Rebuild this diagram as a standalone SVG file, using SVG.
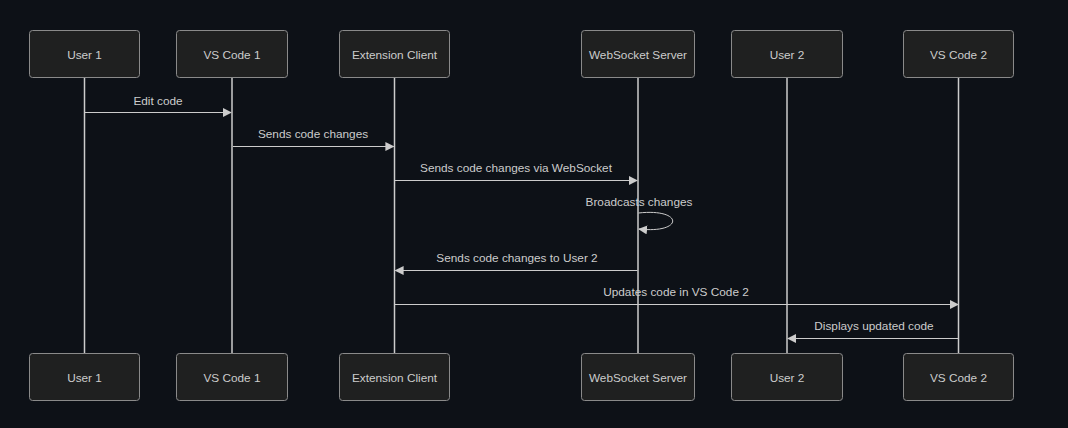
<svg xmlns="http://www.w3.org/2000/svg" width="1068" height="428" viewBox="0 0 1068 428">
<style>
.bg{fill:#0d1117}
.actor rect{fill:#1f2020;stroke:#8a8a8a;stroke-width:1}
.actor text,.lbl{font-family:"Liberation Sans",Arial,sans-serif;font-size:11.8px;fill:#cccccc}
.actor text{text-anchor:middle;dominant-baseline:central}
.lbl{text-anchor:middle}
.life{stroke:#cccccc;stroke-width:1.5}
.msg{stroke:#cccccc;stroke-width:1;fill:none}
</style>
<defs>
<marker id="ah" viewBox="0 0 10 10" refX="9" refY="5" markerWidth="9" markerHeight="9" markerUnits="userSpaceOnUse" orient="auto">
<path d="M0,0 L10,5 L0,10 z" fill="#cccccc"/>
</marker>
</defs>
<rect class="bg" x="0" y="0" width="1068" height="428"/>
<g id="lifelines">
<line class="life" x1="84.5" y1="78" x2="84.5" y2="353"/>
<line class="life" x1="232" y1="78" x2="232" y2="353"/>
<line class="life" x1="394.5" y1="78" x2="394.5" y2="353"/>
<line class="life" x1="638" y1="78" x2="638" y2="353"/>
<line class="life" x1="787" y1="78" x2="787" y2="353"/>
<line class="life" x1="958.5" y1="78" x2="958.5" y2="353"/>
</g>
<g id="user1" class="actor">
<rect x="29.5" y="30.5" width="110" height="47" rx="3"/><text x="84.5" y="54.5">User 1</text>
<rect x="29.5" y="353.5" width="110" height="47" rx="3"/><text x="84.5" y="377.5">User 1</text>
</g>
<g id="vscode1" class="actor">
<rect x="176.5" y="30.5" width="111" height="47" rx="3"/><text x="232" y="54.5">VS Code 1</text>
<rect x="176.5" y="353.5" width="111" height="47" rx="3"/><text x="232" y="377.5">VS Code 1</text>
</g>
<g id="extclient" class="actor">
<rect x="339.5" y="30.5" width="110" height="47" rx="3"/><text x="394.5" y="54.5">Extension Client</text>
<rect x="339.5" y="353.5" width="110" height="47" rx="3"/><text x="394.5" y="377.5">Extension Client</text>
</g>
<g id="wsserver" class="actor">
<rect x="581.5" y="30.5" width="113" height="47" rx="3"/><text x="638" y="54.5">WebSocket Server</text>
<rect x="581.5" y="353.5" width="113" height="47" rx="3"/><text x="638" y="377.5">WebSocket Server</text>
</g>
<g id="user2" class="actor">
<rect x="731.5" y="30.5" width="111" height="47" rx="3"/><text x="787" y="54.5">User 2</text>
<rect x="731.5" y="353.5" width="111" height="47" rx="3"/><text x="787" y="377.5">User 2</text>
</g>
<g id="vscode2" class="actor">
<rect x="903.5" y="30.5" width="110" height="47" rx="3"/><text x="958.5" y="54.5">VS Code 2</text>
<rect x="903.5" y="353.5" width="110" height="47" rx="3"/><text x="958.5" y="377.5">VS Code 2</text>
</g>
<g id="connectors">
<line class="msg" x1="85" y1="112.5" x2="231" y2="112.5" marker-end="url(#ah)"/>
<text class="lbl" x="158" y="105">Edit code</text>
<line class="msg" x1="233" y1="146.5" x2="393.5" y2="146.5" marker-end="url(#ah)"/>
<text class="lbl" x="313" y="138">Sends code changes</text>
<line class="msg" x1="395" y1="180.5" x2="637" y2="180.5" marker-end="url(#ah)"/>
<text class="lbl" x="516" y="172">Sends code changes via WebSocket</text>
<path class="msg" d="M638.5,213 C684,208 684,234 639,229" marker-end="url(#ah)"/>
<text class="lbl" x="639" y="206">Broadcasts changes</text>
<line class="msg" x1="637.5" y1="270.5" x2="395.5" y2="270.5" marker-end="url(#ah)"/>
<text class="lbl" x="517" y="262">Sends code changes to User 2</text>
<line class="msg" x1="395" y1="304.5" x2="958" y2="304.5" marker-end="url(#ah)"/>
<text class="lbl" x="676" y="296">Updates code in VS Code 2</text>
<line class="msg" x1="958" y1="338.5" x2="788" y2="338.5" marker-end="url(#ah)"/>
<text class="lbl" x="874" y="330">Displays updated code</text>
</g>
</svg>
